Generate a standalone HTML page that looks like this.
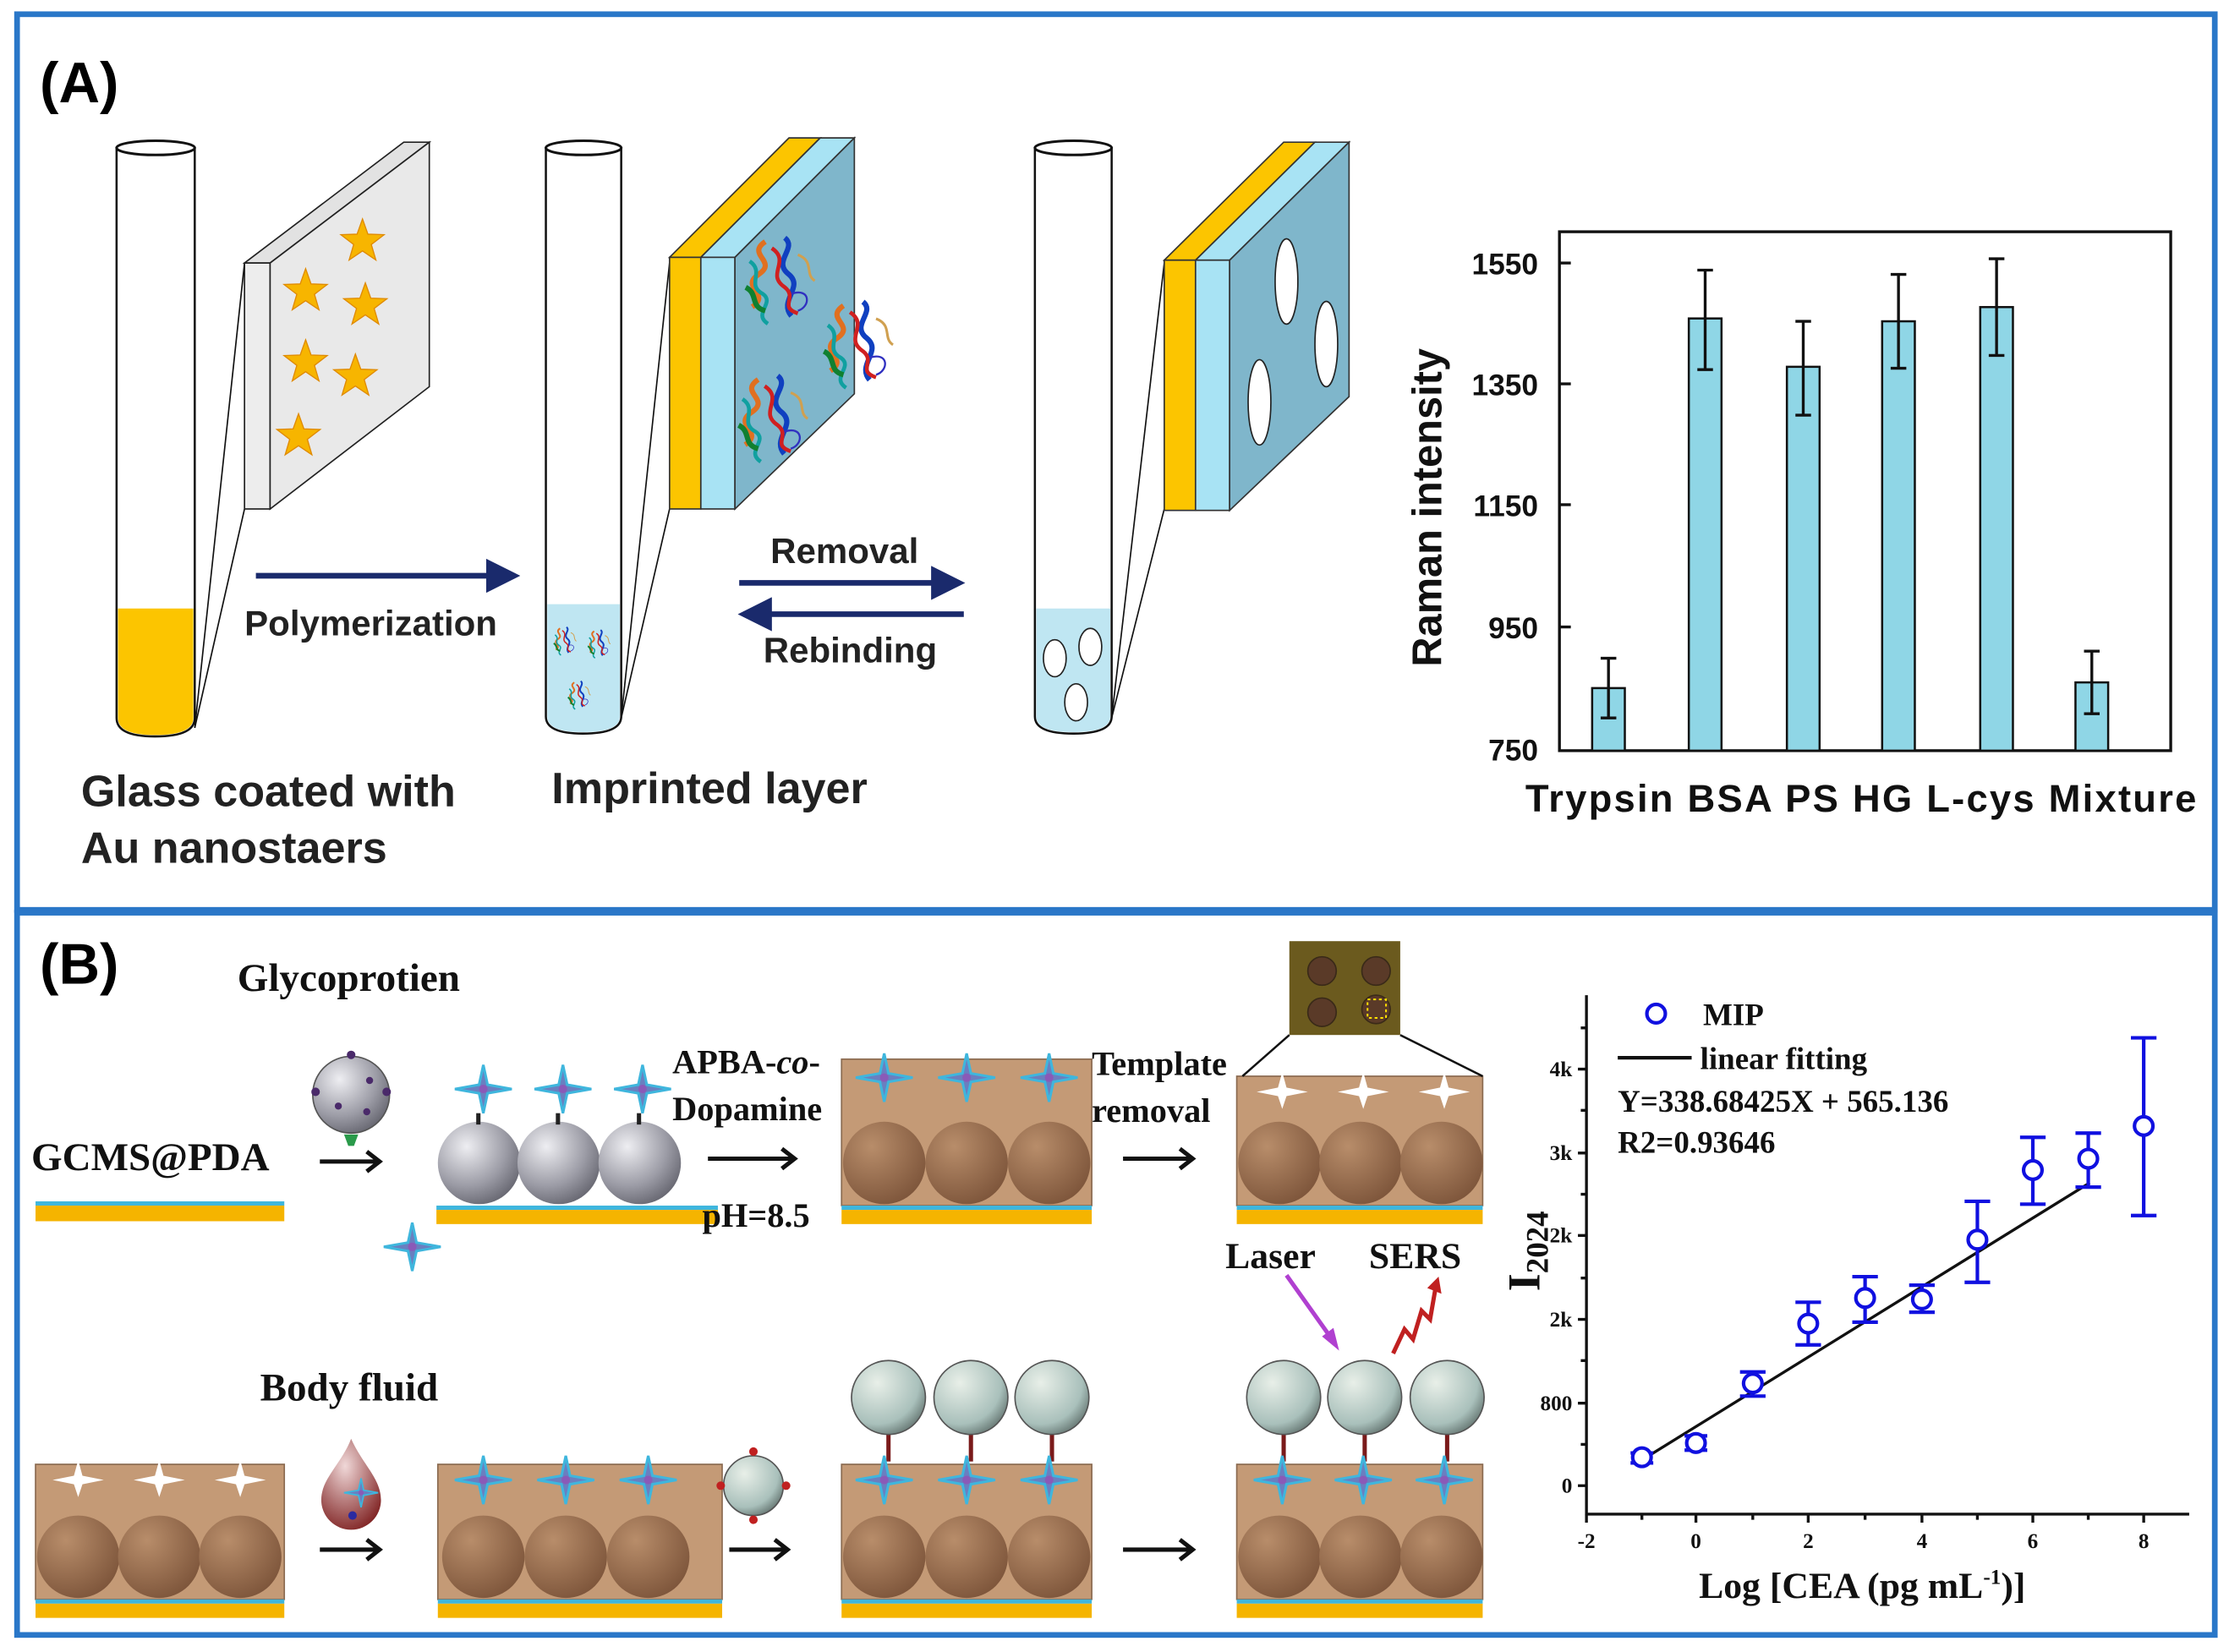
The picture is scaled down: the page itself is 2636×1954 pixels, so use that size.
<!DOCTYPE html>
<html><head><meta charset="utf-8"><style>html,body{margin:0;padding:0;background:#fff}svg{display:block}</style></head>
<body>
<svg width="2636" height="1954" viewBox="0 0 1568 1162" preserveAspectRatio="none" xmlns="http://www.w3.org/2000/svg">
<defs>
<symbol id="st" viewBox="-17 -17 34 34" overflow="visible"><polygon points="0,-16 3.8,-5.3 15.2,-4.9 6.2,2 9.4,12.9 0,6.5 -9.4,12.9 -6.2,2 -15.2,-4.9 -3.8,-5.3" fill="#f7b500" stroke="#e08a00" stroke-width="0.8"/></symbol>
<symbol id="sp" viewBox="-20 -18 40 36" overflow="visible"><path d="M0,-17 L3,-3 L20,0 L3,3 L0,17 L-3,3 L-20,0 L-3,-3Z" fill="#6a7fc0" stroke="#3fb6dd" stroke-width="1.8"/><circle r="3" fill="#8a5ab8"/></symbol>
<symbol id="wsp" viewBox="-20 -18 40 36" overflow="visible"><path d="M0,-14 L3,-3 L18,0 L3,3 L0,12 L-3,3 L-18,0 L-3,-3Z" fill="#fff"/></symbol>
<radialGradient id="gs" cx="0.35" cy="0.3" r="0.8"><stop offset="0" stop-color="#eeeef2"/><stop offset="0.6" stop-color="#9c9ca6"/><stop offset="1" stop-color="#5e5e68"/></radialGradient>
<radialGradient id="bs" cx="0.35" cy="0.3" r="0.8"><stop offset="0" stop-color="#b88d6a"/><stop offset="1" stop-color="#7a5238"/></radialGradient>
<radialGradient id="ts" cx="0.35" cy="0.3" r="0.8"><stop offset="0" stop-color="#e8efe8"/><stop offset="0.7" stop-color="#a9c0bb"/><stop offset="1" stop-color="#5a6a66"/></radialGradient>
<radialGradient id="dr" cx="0.4" cy="0.3" r="0.8"><stop offset="0" stop-color="#f0d8d8"/><stop offset="1" stop-color="#7a1a1a"/></radialGradient>
<marker id="ah" markerWidth="6" markerHeight="6" refX="5" refY="3" orient="auto" markerUnits="strokeWidth"><path d="M0,0 L6,3 L0,6Z" fill="#1a2a6c"/></marker>
<symbol id="prot" viewBox="0 0 60 70" overflow="visible">
<path d="M20,5 C5,15 30,20 15,30 C0,40 25,45 10,55" fill="none" stroke="#e07020" stroke-width="4"/>
<path d="M35,2 C45,10 25,20 38,30 C50,40 30,50 40,62" fill="none" stroke="#1040c0" stroke-width="4"/>
<path d="M25,10 C40,20 20,30 35,40 C45,48 30,55 45,60" fill="none" stroke="#d02020" stroke-width="3"/>
<path d="M8,20 C20,28 5,38 18,45 C28,52 10,60 22,68" fill="none" stroke="#10a0a0" stroke-width="3"/>
<path d="M5,40 C15,45 8,55 20,58" fill="none" stroke="#108030" stroke-width="4"/>
<path d="M45,15 C58,20 50,30 58,35" fill="none" stroke="#d0a050" stroke-width="2"/>
<path d="M40,45 C55,40 55,55 45,58" fill="none" stroke="#3030c0" stroke-width="1.5"/>
</symbol>
</defs>
<rect x="0" y="0" width="1568" height="1162" fill="#fff"/>
<rect x="12" y="10" width="1546" height="630" fill="none" stroke="#2a77c8" stroke-width="4"/>
<rect x="12" y="642" width="1546" height="508" fill="none" stroke="#2a77c8" stroke-width="4"/>

<g font-family="Liberation Sans, sans-serif" font-weight="bold">
<text x="28" y="72" font-size="40">(A)</text>
<text x="28" y="692" font-size="40">(B)</text>
</g>

<path d="M82,104 L82,505 Q82,518 109,518 Q137,518 137,505 L137,104" fill="#fff" stroke="#111" stroke-width="1.5"/>
<path d="M83,428 L136,428 L136,505 Q136,517 109,517 Q83,517 83,505Z" fill="#fcc500"/>
<ellipse cx="109.5" cy="104" rx="27.5" ry="5" fill="#fff" stroke="#111" stroke-width="1.8"/>
<line x1="137" y1="512" x2="172" y2="185" stroke="#111" stroke-width="1"/>
<line x1="137" y1="512" x2="172" y2="358" stroke="#111" stroke-width="1"/>
<polygon points="172,185 190,185 302,100 284,100" fill="#e2e2e2" stroke="#222" stroke-width="1"/>
<rect x="172" y="185" width="18" height="173" fill="#ededed" stroke="#222" stroke-width="1"/>
<polygon points="190,185 302,100 302,272 190,358" fill="#e9e9e9" stroke="#222" stroke-width="1"/>
<use href="#st" x="238" y="153" width="34" height="34"/>
<use href="#st" x="198" y="188" width="34" height="34"/>
<use href="#st" x="240" y="198" width="34" height="34"/>
<use href="#st" x="198" y="238" width="34" height="34"/>
<use href="#st" x="233" y="248" width="34" height="34"/>
<use href="#st" x="193" y="290" width="34" height="34"/>

<line x1="180" y1="405" x2="362" y2="405" stroke="#1a2a6c" stroke-width="4" marker-end="url(#ah)"/>
<text x="172" y="447" font-family="Liberation Sans, sans-serif" font-weight="bold" font-size="25" fill="#222">Polymerization</text>

<path d="M384,104 L384,504 Q384,516 410,516 Q437,516 437,504 L437,104" fill="#fff" stroke="#111" stroke-width="1.5"/>
<path d="M385,425 L436,425 L436,504 Q436,515 410,515 Q385,515 385,504Z" fill="#bfe6f2"/>
<ellipse cx="410.5" cy="104" rx="26.5" ry="5" fill="#fff" stroke="#111" stroke-width="1.8"/>
<use href="#prot" x="388" y="440" width="18" height="22"/>
<use href="#prot" x="412" y="442" width="18" height="22"/>
<use href="#prot" x="398" y="478" width="18" height="22"/>
<line x1="437" y1="505" x2="471" y2="185" stroke="#111" stroke-width="1"/>
<line x1="437" y1="505" x2="471" y2="358" stroke="#111" stroke-width="1"/>
<polygon points="471,181 493,181 577,97 555,97" fill="#fcc500" stroke="#333" stroke-width="1"/>
<polygon points="493,181 517,181 601,97 577,97" fill="#a8e3f4" stroke="#333" stroke-width="1"/>
<rect x="471" y="181" width="22" height="177" fill="#fcc500" stroke="#333" stroke-width="1"/>
<rect x="493" y="181" width="24" height="177" fill="#a8e3f4" stroke="#333" stroke-width="1"/>
<polygon points="517,181 601,97 601,277 517,358" fill="#7fb6cb" stroke="#333" stroke-width="1"/>
<use href="#prot" x="520" y="165" width="55" height="65"/>
<use href="#prot" x="575" y="210" width="55" height="65"/>
<use href="#prot" x="515" y="262" width="55" height="65"/>

<line x1="520" y1="410" x2="675" y2="410" stroke="#1a2a6c" stroke-width="4" marker-end="url(#ah)"/>
<line x1="678" y1="432" x2="523" y2="432" stroke="#1a2a6c" stroke-width="4" marker-end="url(#ah)"/>
<text x="542" y="396" font-family="Liberation Sans, sans-serif" font-weight="bold" font-size="25" fill="#222">Removal</text>
<text x="537" y="466" font-family="Liberation Sans, sans-serif" font-weight="bold" font-size="25" fill="#222">Rebinding</text>

<path d="M728,104 L728,504 Q728,516 755,516 Q782,516 782,504 L782,104" fill="#fff" stroke="#111" stroke-width="1.5"/>
<path d="M729,428 L781,428 L781,504 Q781,515 755,515 Q729,515 729,504Z" fill="#bfe6f2"/>
<ellipse cx="755" cy="104" rx="27" ry="5" fill="#fff" stroke="#111" stroke-width="1.8"/>
<ellipse cx="742" cy="463" rx="8" ry="13" fill="#fff" stroke="#222" stroke-width="1"/>
<ellipse cx="767" cy="455" rx="8" ry="13" fill="#fff" stroke="#222" stroke-width="1"/>
<ellipse cx="757" cy="494" rx="8" ry="13" fill="#fff" stroke="#222" stroke-width="1"/>
<line x1="782" y1="505" x2="819" y2="185" stroke="#111" stroke-width="1"/>
<line x1="782" y1="505" x2="819" y2="358" stroke="#111" stroke-width="1"/>
<polygon points="819,183 841,183 925,100 903,100" fill="#fcc500" stroke="#333" stroke-width="1"/>
<polygon points="841,183 865,183 949,100 925,100" fill="#a8e3f4" stroke="#333" stroke-width="1"/>
<rect x="819" y="183" width="22" height="176" fill="#fcc500" stroke="#333" stroke-width="1"/>
<rect x="841" y="183" width="24" height="176" fill="#a8e3f4" stroke="#333" stroke-width="1"/>
<polygon points="865,183 949,100 949,279 865,359" fill="#7fb6cb" stroke="#333" stroke-width="1"/>
<ellipse cx="905" cy="198" rx="8" ry="30" fill="#fff" stroke="#222" stroke-width="1"/>
<ellipse cx="933" cy="242" rx="8" ry="30" fill="#fff" stroke="#222" stroke-width="1"/>
<ellipse cx="886" cy="283" rx="8" ry="30" fill="#fff" stroke="#222" stroke-width="1"/>

<g font-family="Liberation Sans, sans-serif" font-weight="bold" font-size="31" fill="#222">
<text x="57" y="567">Glass coated with</text>
<text x="57" y="607">Au nanostaers</text>
<text x="388" y="565">Imprinted layer</text>
</g>

<rect x="1097" y="163" width="430" height="365" fill="none" stroke="#111" stroke-width="2"/>
<g stroke="#111" stroke-width="2">
<line x1="1097" y1="185" x2="1105" y2="185"/><line x1="1097" y1="270" x2="1105" y2="270"/><line x1="1097" y1="355" x2="1105" y2="355"/><line x1="1097" y1="441" x2="1105" y2="441"/>
</g>
<g font-family="Liberation Sans, sans-serif" font-weight="bold" font-size="21" fill="#111" text-anchor="end">
<text x="1082" y="193">1550</text><text x="1082" y="278">1350</text><text x="1082" y="363">1150</text><text x="1082" y="449">950</text><text x="1082" y="535">750</text>
</g>
<text transform="translate(1014,357) rotate(-90)" text-anchor="middle" font-family="Liberation Sans, sans-serif" font-weight="bold" font-size="29" fill="#111">Raman intensity</text>
<g fill="#8fd6e6" stroke="#111" stroke-width="1.5">
<rect x="1120" y="484" width="23" height="44"/>
<rect x="1188" y="224" width="23" height="304"/>
<rect x="1257" y="258" width="23" height="270"/>
<rect x="1324" y="226" width="23" height="302"/>
<rect x="1393" y="216" width="23" height="312"/>
<rect x="1460" y="480" width="23" height="48"/>
</g>
<g stroke="#111" stroke-width="2" fill="none">
<path d="M1131.5,463 V505 M1126,463 H1137 M1126,505 H1137"/>
<path d="M1199.5,190 V260 M1194,190 H1205 M1194,260 H1205"/>
<path d="M1268.5,226 V292 M1263,226 H1274 M1263,292 H1274"/>
<path d="M1335.5,193 V259 M1330,193 H1341 M1330,259 H1341"/>
<path d="M1404.5,182 V250 M1399,182 H1410 M1399,250 H1410"/>
<path d="M1471.5,458 V502 M1466,458 H1477 M1466,502 H1477"/>
</g>
<text x="1073" y="571" font-family="Liberation Sans, sans-serif" font-weight="bold" font-size="27" fill="#111" textLength="472">Trypsin BSA  PS  HG L-cys Mixture</text>

<rect x="25" y="845" width="175" height="3" fill="#3fb6dd"/><rect x="25" y="848" width="175" height="11" fill="#f5b400"/>
<rect x="307" y="848" width="198" height="3" fill="#3fb6dd"/><rect x="307" y="851" width="198" height="10" fill="#f5b400"/>

<g font-family="Liberation Serif, serif" font-weight="bold" fill="#111">
<text x="167" y="697" font-size="28">Glycoprotien</text>
<text x="22" y="823" font-size="28">GCMS@PDA</text>
<text x="473" y="755" font-size="24">APBA-<tspan font-style="italic">co</tspan>-</text>
<text x="473" y="788" font-size="24">Dopamine</text>
<text x="494" y="863" font-size="24">pH=8.5</text>
<text x="768" y="756" font-size="24">Template</text>
<text x="768" y="789" font-size="24">removal</text>
<text x="183" y="985" font-size="28">Body fluid</text>
<text x="862" y="892" font-size="26">Laser</text>
<text x="963" y="892" font-size="26">SERS</text>
</g>
<g stroke="#111" stroke-width="3" fill="none">
<path d="M225,817 H266 M258,810 L267,817 L258,824"/>
<path d="M498,815 H558 M550,808 L559,815 L550,822"/>
<path d="M790,815 H838 M830,808 L839,815 L830,822"/>
<path d="M225,1090 H266 M258,1083 L267,1090 L258,1097"/>
<path d="M513,1090 H553 M545,1083 L554,1090 L545,1097"/>
<path d="M790,1090 H838 M830,1083 L839,1090 L830,1097"/>
</g>
<circle cx="247" cy="770" r="27" fill="url(#gs)" stroke="#555" stroke-width="1"/>
<g fill="#4a2a6a"><circle cx="247" cy="742" r="3"/><circle cx="222" cy="768" r="3"/><circle cx="272" cy="768" r="3"/><circle cx="238" cy="778" r="2.5"/><circle cx="258" cy="782" r="2.5"/><circle cx="260" cy="760" r="2.5"/></g>
<path d="M242,798 L252,798 L249,806 L245,806Z" fill="#2a9a4a"/>
<circle cx="337" cy="818" r="29" fill="url(#gs)"/><circle cx="393" cy="818" r="29" fill="url(#gs)"/><circle cx="450" cy="818" r="29" fill="url(#gs)"/>
<g fill="#222"><rect x="335" y="783" width="3" height="8"/><rect x="391" y="783" width="3" height="8"/><rect x="448" y="783" width="3" height="8"/></g>
<use href="#sp" x="320" y="748" width="40" height="36"/><use href="#sp" x="376" y="748" width="40" height="36"/><use href="#sp" x="432" y="748" width="40" height="36"/>
<use href="#sp" x="270" y="859" width="40" height="36"/>
<rect x="592" y="745" width="176" height="103" fill="#c49a76" stroke="#8a6a50" stroke-width="1"/>
<circle cx="622" cy="818" r="29" fill="url(#bs)"/><circle cx="680" cy="818" r="29" fill="url(#bs)"/><circle cx="738" cy="818" r="29" fill="url(#bs)"/>
<rect x="592" y="848" width="176" height="3" fill="#3fb6dd"/><rect x="592" y="851" width="176" height="10" fill="#f5b400"/>
<use href="#sp" x="602" y="740" width="40" height="36"/><use href="#sp" x="660" y="740" width="40" height="36"/><use href="#sp" x="718" y="740" width="40" height="36"/>
<rect x="870" y="757" width="173" height="91" fill="#c49a76" stroke="#8a6a50" stroke-width="1"/>
<circle cx="900" cy="818" r="29" fill="url(#bs)"/><circle cx="957" cy="818" r="29" fill="url(#bs)"/><circle cx="1014" cy="818" r="29" fill="url(#bs)"/>
<rect x="870" y="848" width="173" height="3" fill="#3fb6dd"/><rect x="870" y="851" width="173" height="10" fill="#f5b400"/>
<use href="#wsp" x="882" y="750" width="40" height="36"/><use href="#wsp" x="939" y="750" width="40" height="36"/><use href="#wsp" x="996" y="750" width="40" height="36"/>
<rect x="907" y="662" width="78" height="66" fill="#6b5a1e"/>
<g fill="#5a3a28" stroke="#3a2a18"><circle cx="930" cy="683" r="10"/><circle cx="968" cy="683" r="10"/><circle cx="930" cy="712" r="10"/><circle cx="968" cy="710" r="10"/></g>
<rect x="962" y="703" width="13" height="13" fill="none" stroke="#ffe000" stroke-dasharray="2,2" stroke-width="1.2"/>
<line x1="907" y1="728" x2="874" y2="757" stroke="#111" stroke-width="1.5"/>
<line x1="985" y1="728" x2="1043" y2="757" stroke="#111" stroke-width="1.5"/>

<rect x="25" y="1030" width="175" height="95" fill="#c49a76" stroke="#8a6a50"/>
<circle cx="55" cy="1095" r="29" fill="url(#bs)"/><circle cx="112" cy="1095" r="29" fill="url(#bs)"/><circle cx="169" cy="1095" r="29" fill="url(#bs)"/>
<rect x="25" y="1125" width="175" height="3" fill="#3fb6dd"/><rect x="25" y="1128" width="175" height="10" fill="#f5b400"/>
<use href="#wsp" x="35" y="1023" width="40" height="36"/><use href="#wsp" x="92" y="1023" width="40" height="36"/><use href="#wsp" x="149" y="1023" width="40" height="36"/>
<path d="M247,1012 C255,1030 268,1040 268,1055 A21,21 0 0 1 226,1055 C226,1040 240,1030 247,1012Z" fill="url(#dr)"/>
<use href="#sp" x="242" y="1039" width="24" height="22"/>
<circle cx="248" cy="1066" r="3" fill="#2a2aa0"/>

<rect x="308" y="1030" width="200" height="95" fill="#c49a76" stroke="#8a6a50"/>
<circle cx="340" cy="1095" r="29" fill="url(#bs)"/><circle cx="398" cy="1095" r="29" fill="url(#bs)"/><circle cx="456" cy="1095" r="29" fill="url(#bs)"/>
<rect x="308" y="1125" width="200" height="3" fill="#3fb6dd"/><rect x="308" y="1128" width="200" height="10" fill="#f5b400"/>
<use href="#sp" x="320" y="1023" width="40" height="36"/><use href="#sp" x="378" y="1023" width="40" height="36"/><use href="#sp" x="436" y="1023" width="40" height="36"/>

<circle cx="530" cy="1045" r="21" fill="url(#ts)" stroke="#555"/>
<g fill="#c02020"><circle cx="530" cy="1021" r="3"/><circle cx="507" cy="1045" r="3"/><circle cx="553" cy="1045" r="3"/><circle cx="530" cy="1069" r="3"/></g>

<rect x="592" y="1030" width="176" height="95" fill="#c49a76" stroke="#8a6a50"/>
<circle cx="622" cy="1095" r="29" fill="url(#bs)"/><circle cx="680" cy="1095" r="29" fill="url(#bs)"/><circle cx="738" cy="1095" r="29" fill="url(#bs)"/>
<rect x="592" y="1125" width="176" height="3" fill="#3fb6dd"/><rect x="592" y="1128" width="176" height="10" fill="#f5b400"/>
<g stroke="#7a1a1a" stroke-width="3"><line x1="625" y1="1008" x2="625" y2="1028"/><line x1="683" y1="1008" x2="683" y2="1028"/><line x1="740" y1="1008" x2="740" y2="1028"/></g>
<use href="#sp" x="602" y="1023" width="40" height="36"/><use href="#sp" x="660" y="1023" width="40" height="36"/><use href="#sp" x="718" y="1023" width="40" height="36"/>
<circle cx="625" cy="983" r="26" fill="url(#ts)" stroke="#555"/><circle cx="683" cy="983" r="26" fill="url(#ts)" stroke="#555"/><circle cx="740" cy="983" r="26" fill="url(#ts)" stroke="#555"/>

<rect x="870" y="1030" width="173" height="95" fill="#c49a76" stroke="#8a6a50"/>
<circle cx="900" cy="1095" r="29" fill="url(#bs)"/><circle cx="957" cy="1095" r="29" fill="url(#bs)"/><circle cx="1014" cy="1095" r="29" fill="url(#bs)"/>
<rect x="870" y="1125" width="173" height="3" fill="#3fb6dd"/><rect x="870" y="1128" width="173" height="10" fill="#f5b400"/>
<g stroke="#7a1a1a" stroke-width="3"><line x1="903" y1="1008" x2="903" y2="1028"/><line x1="960" y1="1008" x2="960" y2="1028"/><line x1="1018" y1="1008" x2="1018" y2="1028"/></g>
<use href="#sp" x="882" y="1023" width="40" height="36"/><use href="#sp" x="939" y="1023" width="40" height="36"/><use href="#sp" x="996" y="1023" width="40" height="36"/>
<circle cx="903" cy="983" r="26" fill="url(#ts)" stroke="#555"/><circle cx="960" cy="983" r="26" fill="url(#ts)" stroke="#555"/><circle cx="1018" cy="983" r="26" fill="url(#ts)" stroke="#555"/>
<path d="M905,897 L937,942" stroke="#b040d0" stroke-width="3"/><path d="M930,940 L942,950 L938,934Z" fill="#b040d0"/>
<path d="M980,952 L988,935 L994,942 L1000,922 L1006,928 L1010,905" stroke="#c02020" stroke-width="3" fill="none"/><path d="M1004,906 L1012,898 L1014,910Z" fill="#c02020"/>

<g stroke="#111" stroke-width="2" fill="none">
<path d="M1116,700 V1065 H1540"/>
<path d="M1116,1065 v6 M1155,1065 v4 M1193,1065 v6 M1233,1065 v4 M1272,1065 v6 M1312,1065 v4 M1352,1065 v6 M1391,1065 v4 M1430,1065 v6 M1469,1065 v4 M1508,1065 v6"/>
<path d="M1116,1045 h-6 M1116,987 h-6 M1116,928 h-6 M1116,869 h-6 M1116,811 h-6 M1116,752 h-6 M1116,1016 h-4 M1116,957 h-4 M1116,899 h-4 M1116,840 h-4 M1116,781 h-4 M1116,723 h-4"/>
</g>
<g font-family="Liberation Serif, serif" font-weight="bold" font-size="15" fill="#111" text-anchor="end">
<text x="1106" y="1050">0</text><text x="1106" y="992">800</text><text x="1106" y="933">2k</text><text x="1106" y="874">2k</text><text x="1106" y="816">3k</text><text x="1106" y="757">4k</text>
</g>
<g font-family="Liberation Serif, serif" font-weight="bold" font-size="15" fill="#111" text-anchor="middle">
<text x="1116" y="1089">-2</text><text x="1193" y="1089">0</text><text x="1272" y="1089">2</text><text x="1352" y="1089">4</text><text x="1430" y="1089">6</text><text x="1508" y="1089">8</text>
</g>
<text transform="translate(1083,880) rotate(-90)" text-anchor="middle" font-family="Liberation Serif, serif" font-weight="bold" font-size="32" fill="#111">I<tspan font-size="22" dy="6">2024</tspan></text>
<text x="1310" y="1124" text-anchor="middle" font-family="Liberation Serif, serif" font-weight="bold" font-size="26" fill="#111">Log [CEA (pg mL<tspan font-size="15" dy="-10">-1</tspan><tspan dy="10">)]</tspan></text>
<line x1="1155" y1="1027" x2="1470" y2="832" stroke="#111" stroke-width="2"/>
<g stroke="#1010e0" stroke-width="2.5" fill="none">
<path d="M1147,1022 H1163 M1147,1029 H1163"/>
<path d="M1185,1010 H1201 M1185,1020 H1201"/>
<path d="M1233,965 V982 M1224,965 H1242 M1224,982 H1242"/>
<path d="M1272,916 V946 M1263,916 H1281 M1263,946 H1281"/>
<path d="M1312,898 V930 M1303,898 H1321 M1303,930 H1321"/>
<path d="M1352,904 V923 M1343,904 H1361 M1343,923 H1361"/>
<path d="M1391,845 V902 M1382,845 H1400 M1382,902 H1400"/>
<path d="M1430,800 V847 M1421,800 H1439 M1421,847 H1439"/>
<path d="M1469,797 V835 M1460,797 H1478 M1460,835 H1478"/>
<path d="M1508,730 V855 M1499,730 H1517 M1499,855 H1517"/>
</g>
<g stroke="#1010e0" stroke-width="2.5" fill="#fff">
<circle cx="1155" cy="1025" r="6.5"/><circle cx="1193" cy="1015" r="6.5"/><circle cx="1233" cy="973" r="6.5"/><circle cx="1272" cy="931" r="6.5"/><circle cx="1312" cy="913" r="6.5"/><circle cx="1352" cy="914" r="6.5"/><circle cx="1391" cy="872" r="6.5"/><circle cx="1430" cy="823" r="6.5"/><circle cx="1469" cy="815" r="6.5"/><circle cx="1508" cy="792" r="6.5"/>
<circle cx="1165" cy="713" r="6.5"/>
</g>
<line x1="1138" y1="744" x2="1190" y2="744" stroke="#111" stroke-width="2.5"/>
<g font-family="Liberation Serif, serif" font-weight="bold" font-size="22" fill="#111">
<text x="1198" y="721">MIP</text>
<text x="1196" y="752">linear fitting</text>
<text x="1138" y="782">Y=338.68425X + 565.136</text>
<text x="1138" y="811">R2=0.93646</text>
</g>
</svg>
</body></html>
